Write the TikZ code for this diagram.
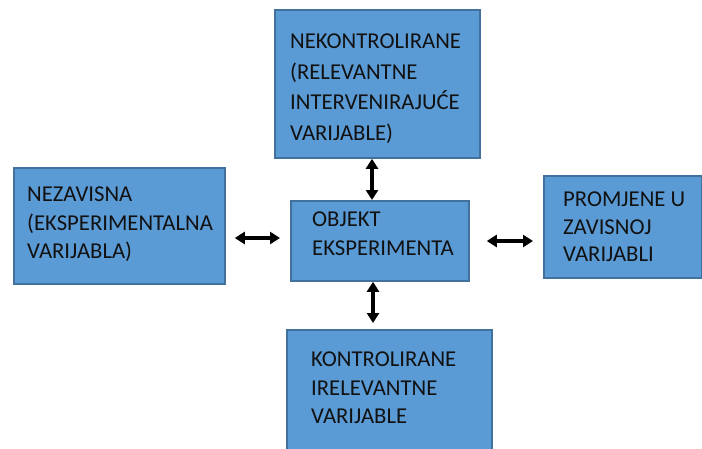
\documentclass[tikz,border=0pt]{standalone}
\usepackage{fontspec}
\setmainfont{Carlito}
\usetikzlibrary{arrows.meta,calc}
\definecolor{boxfill}{HTML}{5B9BD5}
\definecolor{boxline}{HTML}{41719C}
\definecolor{txtcol}{HTML}{111111}
\tikzset{
  box/.style={draw=boxline, line width=1.8pt, fill=boxfill, inner sep=0pt, anchor=north west},
  txt/.style={anchor=north west, inner sep=0pt, align=left, text=txtcol, font=\fontsize{22.7pt}{#1}\selectfont},
  txt/.default={28.5pt},
  arr/.style={line width=3.2pt, {Triangle[length=10pt,width=12pt]}-{Triangle[length=10pt,width=12pt]}}
}
\begin{document}
\begin{tikzpicture}[x=1pt,y=-1pt]
\useasboundingbox (0,0) rectangle (702,448);
\begin{scope}
\clip (0,0) rectangle (702,448);
\node[box, minimum width=205pt, minimum height=148pt] (top) at (274,9) {};
\node[box, minimum width=211pt, minimum height=116pt] (left) at (13,167) {};
\node[box, minimum width=178pt, minimum height=80pt] (center) at (290,200) {};
\node[box, minimum width=158pt, minimum height=102pt] (right) at (543,175) {};
\node[box, minimum width=205pt, minimum height=140pt] (bottom) at (286,329) {};
\end{scope}
\node[txt=30.5pt] (toptxt) at (290,34) {NEKONTROLIRANE\\(RELEVANTNE\\INTERVENIRAJUĆE\\VARIJABLE)};
\node[txt] (lefttxt) at (27,187) {NEZAVISNA\\(EKSPERIMENTALNA\\VARIJABLA)};
\node[txt] (centertxt) at (312,212) {OBJEKT\\EKSPERIMENTA};
\node[txt=27.5pt] (righttxt) at (563,192) {PROMJENE U\\ZAVISNOJ\\VARIJABLI};
\node[txt] (bottomtxt) at (311,352) {KONTROLIRANE\\IRELEVANTNE\\VARIJABLE};
\coordinate (ax) at (372,0);
\coordinate (bx) at (373,0);
\coordinate (ly) at (0,238);
\coordinate (ry) at (0,241);
\draw[arr] (ax |- top.south) -- (ax |- center.north);
\draw[arr, shorten >=6pt] (bx |- center.south) -- (bx |- bottom.north);
\draw[arr, shorten <=9pt, shorten >=10pt] (left.east |- ly) -- (center.west |- ly);
\draw[arr, shorten <=17pt, shorten >=10pt] (center.east |- ry) -- (right.west |- ry);
\end{tikzpicture}
\end{document}
